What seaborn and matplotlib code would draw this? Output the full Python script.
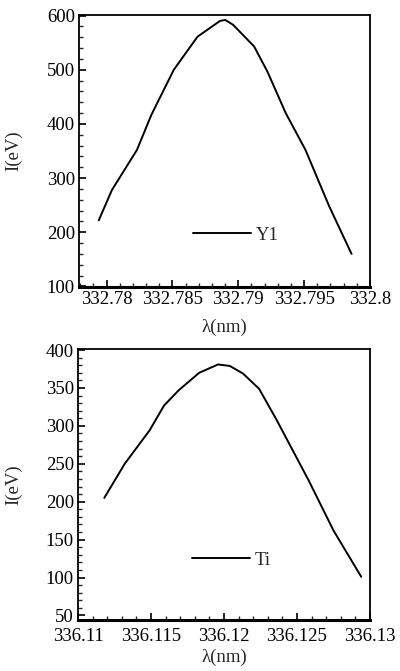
import matplotlib
matplotlib.use("Agg")
import matplotlib.pyplot as plt
import seaborn as sns
import pandas as pd
from matplotlib.ticker import FixedLocator, MultipleLocator, FuncFormatter

# ---- data ----
y_wavelength = [332.7794, 332.7804, 332.7823, 332.7834, 332.7851, 332.7869, 332.7886,
                332.7890, 332.7896, 332.7912, 332.7922, 332.7936, 332.7951, 332.7969, 332.7986]
y_intensity = [222, 278, 352, 417, 500, 561, 590, 592, 583, 543, 497, 420, 352, 248, 160]

ti_wavelength = [336.1118, 336.1132, 336.1149, 336.1159, 336.1169, 336.1183, 336.1196,
                 336.1204, 336.1213, 336.1224, 336.1236, 336.1258, 336.1275, 336.1294]
ti_intensity = [205, 250, 294, 327, 347, 370, 381, 379, 369, 349, 308, 228, 162, 101]

top_xticks = [332.78, 332.785, 332.79, 332.795, 332.8]
top_yticks = [100, 200, 300, 400, 500, 600]
bot_xticks = [336.11, 336.115, 336.12, 336.125, 336.13]
bot_yticks = [50, 100, 150, 200, 250, 300, 350, 400]

series_top = "Y1"
series_bot = "Ti"
xlabel = "λ(nm)"
ylabel = "I(eV)"

sns.set_theme(style="ticks")
plt.rcParams['font.family'] = ['Liberation Serif', 'DejaVu Serif']

fig = plt.figure(figsize=(4.0, 6.71), dpi=100)
ax1 = fig.add_axes([0.1975, 0.5723, 0.7275, 0.4053])
ax2 = fig.add_axes([0.195, 0.076, 0.730, 0.4046])

df1 = pd.DataFrame({"x": y_wavelength, "y": y_intensity, "s": series_top})
df2 = pd.DataFrame({"x": ti_wavelength, "y": ti_intensity, "s": series_bot})

fs = 13.5

def style(ax, df, xticks, yticks, xlim, ylim, ymin_step, legpos, xl_y, yl_x, xpad):
    sns.lineplot(data=df, x="x", y="y", hue="s", palette=["black"], ax=ax,
                 linewidth=1.4, sort=False, estimator=None)
    ax.set_xlim(*xlim)
    ax.set_ylim(*ylim)
    ax.xaxis.set_major_locator(FixedLocator(xticks))
    ax.yaxis.set_major_locator(FixedLocator(yticks))
    ax.xaxis.set_minor_locator(MultipleLocator(0.001))
    ax.yaxis.set_minor_locator(MultipleLocator(ymin_step))
    ax.xaxis.set_major_formatter(FuncFormatter(lambda v, p: "%g" % round(v, 4)))
    ax.yaxis.set_major_formatter(FuncFormatter(lambda v, p: "%d" % round(v)))
    ax.tick_params(axis="both", which="major", direction="in", length=5, width=1.2,
                   labelsize=fs, colors="black")
    ax.tick_params(axis="x", which="major", pad=xpad)
    ax.tick_params(axis="y", which="major", pad=3)
    ax.tick_params(axis="both", which="minor", direction="in", length=3, width=1.0)
    for s in ax.spines.values():
        s.set_linewidth(1.3)
        s.set_color("black")
    ax.spines["bottom"].set_linewidth(2.2)
    ax.set_xlabel(xlabel, fontsize=fs)
    ax.set_ylabel(ylabel, fontsize=fs)
    ax.xaxis.set_label_coords(0.5, xl_y)
    ax.yaxis.set_label_coords(yl_x, 0.5)
    leg = ax.legend(loc="center left", bbox_to_anchor=legpos, frameon=False,
                    fontsize=fs, handlelength=3.1, handletextpad=0.25,
                    borderpad=0, borderaxespad=0)
    for h in leg.get_lines():
        h.set_linewidth(1.4)

style(ax1, df1, top_xticks, top_yticks, (332.7779, 332.8), (99, 601), 20,
      (0.392, 0.191), -0.118, -0.196, 3)
style(ax2, df2, bot_xticks, bot_yticks, (336.11, 336.13), (44, 402), 10,
      (0.389, 0.221), -0.105, -0.192, 6)

fig.savefig("out.png", dpi=100)
